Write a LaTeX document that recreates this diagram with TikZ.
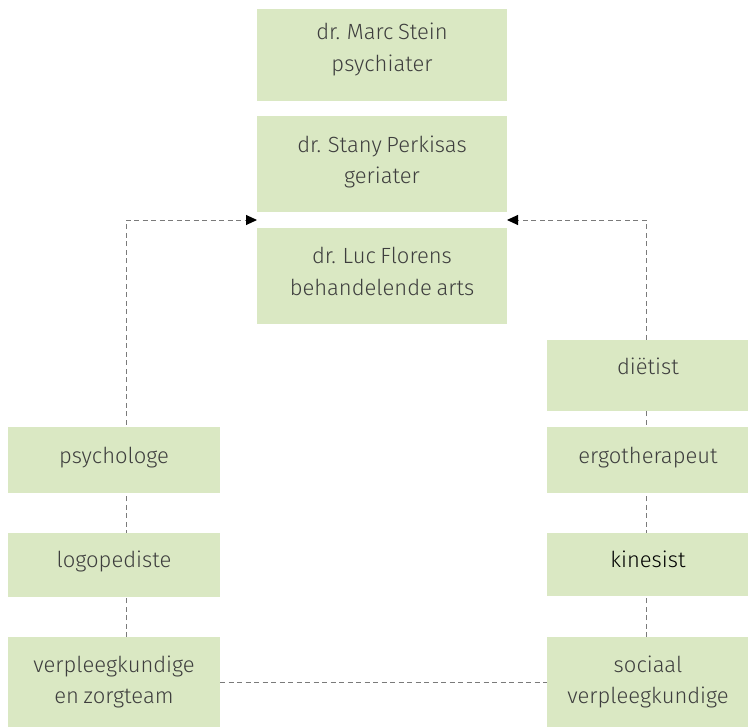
\documentclass[tikz,border=0pt]{standalone}
\usepackage{fontspec}
\setmainfont{Fira Sans Light}[WordSpace=0.75]
\usetikzlibrary{arrows.meta,backgrounds,calc}
\definecolor{boxgreen}{HTML}{DAE8C3}
\definecolor{txtgray}{HTML}{3E3E3E}
\definecolor{linegray}{HTML}{7A7A7A}
\begin{document}
\begin{tikzpicture}[x=1pt,y=-1pt,
  box/.style={fill=boxgreen,draw=none,inner sep=0pt,outer sep=0pt,minimum width=#1},
  lbl/.style={anchor=base,inner sep=0pt,text=txtgray,font=\fontsize{22}{31}\selectfont},
  dline/.style={draw=linegray,line width=1pt,dash pattern=on 5pt off 3.5pt},
  tip/.style={-{Triangle[length=11pt,width=10pt,color=black]}}]
\useasboundingbox (0,0) rectangle (748,728);
% top column
\node[box=250pt,minimum height=92pt] (b1) at (382,55) {};
\node[box=250pt,minimum height=96pt] (b2) at (382,164) {};
\node[box=250pt,minimum height=96pt] (b3) at (382,276) {};
% right column
\node[box=201pt,minimum height=71pt] (d) at (647.5,375.5) {};
\node[box=201pt,minimum height=66pt] (e) at (647.5,460) {};
\node[box=201pt,minimum height=63pt] (k) at (647.5,564.5) {};
\node[box=201pt,minimum height=90pt] (s) at (647.5,682) {};
% left column
\node[box=212pt,minimum height=66pt] (p) at (114,460) {};
\node[box=212pt,minimum height=64pt] (l) at (114,565) {};
\node[box=212pt,minimum height=90pt] (v) at (114,682) {};
% texts
\node[lbl] (t1a) at (382,39) {dr. Marc Stein};
\node[lbl] (t1b) at (382,71) {psychiater};
\node[lbl] (t2a) at (382,152) {dr. Stany Perkisas};
\node[lbl] (t2b) at (382,183) {geriater};
\node[lbl] (t3a) at (382,263) {dr. Luc Florens};
\node[lbl] (t3b) at (382,295) {behandelende arts};
\node[lbl] (td) at (648,374) {diëtist};
\node[lbl] (te) at (648,463) {ergotherapeut};
\node[lbl,text=black] (tk) at (648,567) {kinesist};
\node[lbl] (tsa) at (648,672) {sociaal};
\node[lbl] (tsb) at (648,703) {verpleegkundige};
\node[lbl] (tp) at (114,463) {psychologe};
\node[lbl] (tl) at (114,567) {logopediste};
\node[lbl] (tva) at (114,672) {verpleegkundige};
\node[lbl] (tvb) at (114,703) {en zorgteam};
% connectors
\coordinate (lx) at (126,0);
\coordinate (rx) at (646,0);
\coordinate (tipL) at ($(b2.south west)!0.5!(b3.north west)$);
\coordinate (tipR) at ($(b2.south east)!0.5!(b3.north east)$);
\begin{pgfonlayer}{background}
\draw[dline,tip] (v.north -| lx) |- (tipL);
\draw[dline,tip] (s.north -| rx) |- (tipR);
\draw[dline] (v.east) -- (s.west);
\end{pgfonlayer}
\end{tikzpicture}
\end{document}
